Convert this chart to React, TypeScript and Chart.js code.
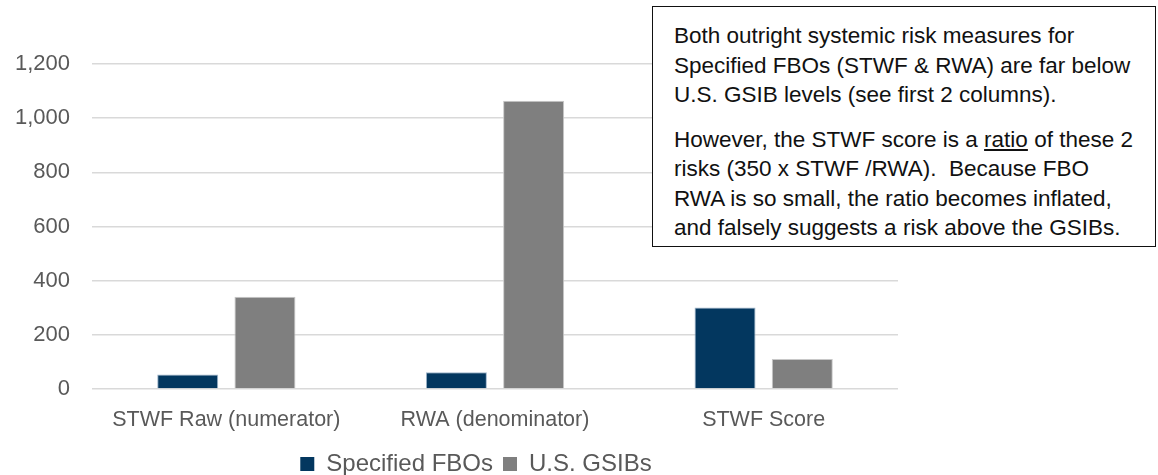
import React, { useEffect, useRef } from "react";
import { Chart, registerables } from "chart.js";

Chart.register(...registerables);

const categories = ["STWF Raw (numerator)", "RWA (denominator)", "STWF Score"];
const fboValues = [54, 62, 301];
const gsibValues = [341, 1064, 111];
const seriesNames = ["Specified FBOs", "U.S. GSIBs"];
const yTicks = [0, 200, 400, 600, 800, 1000, 1200];

const FONT = "'Liberation Sans', Arial, sans-serif";

const fmt = (v: number) => String(v).replace(/\B(?=(\d{3})+(?!\d))/g, ",");

const legendShift = {
  id: "legendShift",
  afterLayout(chart: any) {
    const lg = chart.legend;
    if (!lg) return;
    lg.left += 27;
    lg.right += 27;
    lg.top += 11;
    lg.bottom += 11;
  },
};

export default function App() {
  const canvasRef = useRef<HTMLCanvasElement | null>(null);

  useEffect(() => {
    const canvas = canvasRef.current;
    if (!canvas) return;
    const chart = new Chart(canvas, {
      type: "bar",
      data: {
        labels: categories,
        datasets: [
          {
            label: seriesNames[0],
            data: fboValues,
            backgroundColor: "#03375F",
            borderColor: "#9FB6CC",
            borderWidth: 1,
            barPercentage: 0.79,
            categoryPercentage: 0.575,
          },
          {
            label: seriesNames[1],
            data: gsibValues,
            backgroundColor: "#7F7F7F",
            borderColor: "#C8C8C8",
            borderWidth: 1,
            barPercentage: 0.79,
            categoryPercentage: 0.575,
          },
        ],
      },
      plugins: [legendShift],
      options: {
        animation: false,
        responsive: false,
        maintainAspectRatio: false,
        layout: { padding: { left: 0, right: 260, top: 64, bottom: 0 } },
        plugins: {
          tooltip: { enabled: false },
          legend: {
            position: "bottom",
            labels: {
              boxWidth: 14,
              boxHeight: 14,
              padding: 10,
              color: "#595959",
              font: { family: FONT, size: 24 },
              generateLabels: (ch: any) =>
                ch.data.datasets.map((ds: any, i: number) => ({
                  text: ds.label,
                  fillStyle: ds.backgroundColor,
                  strokeStyle: ds.backgroundColor,
                  lineWidth: 0,
                  fontColor: "#595959",
                  datasetIndex: i,
                  hidden: false,
                })),
            },
          },
        },
        scales: {
          x: {
            grid: { display: false },
            border: { display: false },
            ticks: {
              color: "#595959",
              font: { family: FONT, size: 21.5 },
              padding: 10,
              maxRotation: 0,
              autoSkip: false,
            },
            afterFit: (scale: any) => {
              scale.height = 42;
            },
          },
          y: {
            min: 0,
            max: 1200,
            afterBuildTicks: (scale: any) => {
              scale.ticks = yTicks.map((v) => ({ value: v }));
            },
            grid: { color: "#D9D9D9", lineWidth: 1.5, drawTicks: false },
            border: { display: false },
            ticks: {
              color: "#595959",
              font: { family: FONT, size: 22 },
              padding: 22,
              callback: (v: any) => fmt(Number(v)),
            },
            afterFit: (scale: any) => {
              scale.width = 92;
            },
          },
        },
      },
    });
    return () => chart.destroy();
  }, []);

  const line = { whiteSpace: "nowrap" as const };

  return (
    <div style={{ position: "absolute", left: 0, top: 0, width: 1158, height: 475, background: "#fff" }}>
      <canvas ref={canvasRef} width={1158} height={475} style={{ display: "block" }} />
      <div
        style={{
          position: "absolute",
          left: 652,
          top: 6,
          width: 504,
          height: 241,
          boxSizing: "border-box",
          border: "1.5px solid #111",
          background: "#fff",
          padding: "14px 6px 0 21px",
          fontFamily: FONT,
          fontSize: 22.5,
          lineHeight: "29.5px",
          color: "#111",
        }}
      >
        <div style={line}>Both outright systemic risk measures for</div>
        <div style={line}>Specified FBOs (STWF &amp; RWA) are far below</div>
        <div style={line}>U.S. GSIB levels (see first 2 columns).</div>
        <div style={{ ...line, marginTop: 15 }}>
          However, the STWF score is a <span style={{ textDecoration: "underline" }}>ratio</span> of these 2
        </div>
        <div style={line}>risks (350 x STWF /RWA).&nbsp; Because FBO</div>
        <div style={line}>RWA is so small, the ratio becomes inflated,</div>
        <div style={line}>and falsely suggests a risk above the GSIBs.</div>
      </div>
    </div>
  );
}
